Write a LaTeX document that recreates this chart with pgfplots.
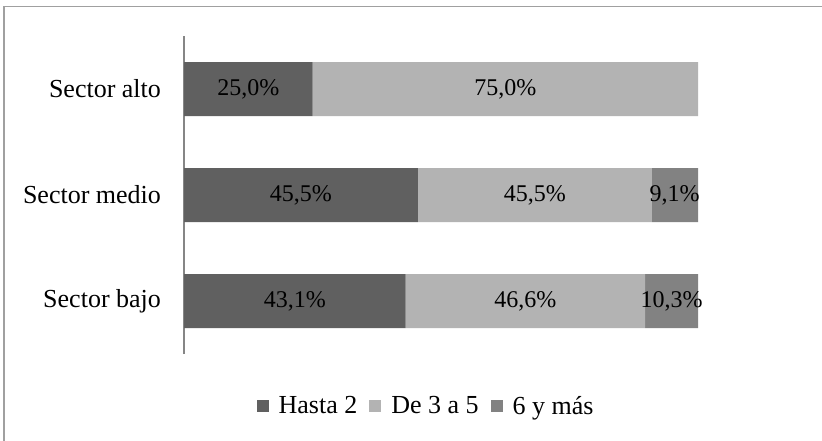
\documentclass[border=0pt]{standalone}
\usepackage{fontspec}
\setmainfont{Liberation Serif}
\usepackage{pgfplots}
\pgfplotsset{compat=1.18}

\definecolor{hasta}{RGB}{96,96,96}
\definecolor{detres}{RGB}{179,179,179}
\definecolor{seis}{RGB}{130,130,130}
\definecolor{framegray}{RGB}{160,160,160}
\definecolor{axisgray}{RGB}{134,134,134}

\pgfplotsset{
  frame/.style={
    at={(92pt,43pt)}, anchor=south west,
    scale only axis,
    width=257pt, height=159pt,
    xmin=0, xmax=100,
    ymin=-0.5, ymax=2.5,
  },
}

\begin{document}
\begin{tikzpicture}
\useasboundingbox (0,0) rectangle (411pt,220pt);
\draw[framegray, line width=0.7pt] (2pt,-10pt) rectangle (430pt,216.7pt);
\begin{axis}[
frame,
xbar stacked,
bar width=27pt,
axis x line=none,
axis y line*=left,
axis line style={draw=axisgray, line width=0.7pt},
ytick={0,1,2},
yticklabels={Sector bajo, Sector medio, Sector alto},
major tick length=0pt,
yticklabel style={font=\fontsize{13}{15}\selectfont, xshift=-8pt},
legend style={at={(0.473,-0.165)}, anchor=center, draw=none,
  font=\fontsize{13}{15}\selectfont, column sep=3pt,
  /tikz/every even column/.append style={column sep=4pt}},
legend columns=-1,
legend image code/.code={\fill[#1] (0pt,-3pt) rectangle (6pt,3pt);},
]
\addplot[fill=hasta, draw=none] coordinates {(43.1,0) (45.5,1) (25.0,2)};
\addplot[fill=detres, draw=none] coordinates {(46.6,0) (45.5,1) (75.0,2)};
\addplot[fill=seis, draw=none] coordinates {(10.3,0) (9.1,1) (0,2)};
\legend{Hasta 2, De 3 a 5, 6 y más}
\end{axis}
% value labels, centred in each segment
\begin{axis}[
frame,
hide axis,
clip=false,
point meta=explicit symbolic,
nodes near coords,
every node near coord/.append style={
  font=\fontsize{12}{14}\selectfont, text=black, anchor=center},
]
\addplot[draw=none, mark=none] coordinates {
(21.55,0) [43,1\%]
(22.75,1) [45,5\%]
(12.5,2) [25,0\%]
};
\addplot[draw=none, mark=none] coordinates {
(66.4,0) [46,6\%]
(68.25,1) [45,5\%]
(62.5,2) [75,0\%]
};
\addplot[draw=none, mark=none] coordinates {
(94.85,0) [10,3\%]
(95.45,1) [9,1\%]
};
\end{axis}
\end{tikzpicture}
\end{document}
